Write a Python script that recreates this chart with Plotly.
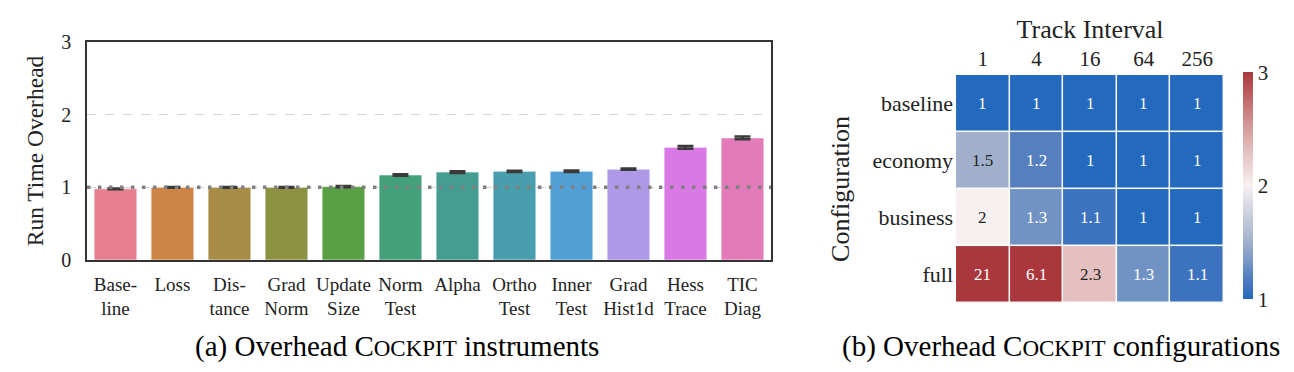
import plotly.graph_objects as go

# ---------------- data ----------------
instruments = ["Base-<br>line", "Loss", "Dis-<br>tance", "Grad<br>Norm", "Update<br>Size",
               "Norm<br>Test", "Alpha", "Ortho<br>Test", "Inner<br>Test", "Grad<br>Hist1d",
               "Hess<br>Trace", "TIC<br>Diag"]
overhead = [0.98, 1.00, 1.00, 1.00, 1.01, 1.17, 1.21, 1.22, 1.22, 1.25, 1.55, 1.68]
overhead_err = [0.005, 0.006, 0.006, 0.006, 0.008, 0.01, 0.012, 0.008, 0.01, 0.008, 0.02, 0.02]
bar_colors = ["#e6808f", "#ce8446", "#a78c45", "#8b9343", "#58a043", "#43a07b",
              "#459c93", "#499ead", "#529fd6", "#ad99e6", "#da78e6", "#e37ab9"]
y_ticks = [0, 1, 2, 3]
baseline_level = 1

intervals = ["1", "4", "16", "64", "256"]
configs = ["baseline", "economy", "business", "full"]
config_overhead = [
    [1, 1, 1, 1, 1],
    [1.5, 1.2, 1, 1, 1],
    [2, 1.3, 1.1, 1, 1],
    [21, 6.1, 2.3, 1.3, 1.1],
]
cbar_ticks = [1, 2, 3]

SERIF = "Liberation Serif, Times New Roman, serif"
INK = "#222222"

# page body has an 8px default margin -> figure is 8px smaller
W, H = 1286, 364

vlag = [
    [0.00, "#2369bd"],
    [0.05, "#3d73be"],
    [0.10, "#557fbf"],
    [0.15, "#7093c4"],
    [0.25, "#a0b0cc"],
    [0.50, "#f7f0f0"],
    [0.65, "#e4c0c0"],
    [0.80, "#cf8a8b"],
    [1.00, "#a9373b"],
]

fig = go.Figure()

fig.add_trace(go.Bar(
    x=instruments, y=overhead,
    marker=dict(color=bar_colors, line=dict(color="rgba(255,255,255,0.6)", width=1)),
    error_y=dict(type="data", array=overhead_err, color="#3a3a3a", thickness=2.5, width=8),
    xaxis="x", yaxis="y", showlegend=False, hoverinfo="skip",
))

fig.add_trace(go.Heatmap(
    x=intervals, y=configs, z=config_overhead,
    zmin=1, zmax=3, colorscale=vlag, xgap=1.5, ygap=1.5,
    xaxis="x2", yaxis="y2",
    colorbar=dict(x=0.9601, xanchor="left", xpad=0, ypad=0, y=0.511, yanchor="middle",
                  len=0.6225, thickness=10, outlinewidth=0, tickvals=cbar_ticks, ticks="",
                  tickfont=dict(family=SERIF, size=21, color=INK)),
    hoverinfo="skip",
))

annotations = []
for i, cfg in enumerate(configs):
    for j, itv in enumerate(intervals):
        v = config_overhead[i][j]
        col = INK if 1.4 <= v <= 2.6 else "white"
        # category axes: use the serial index of each category
        annotations.append(dict(x=j, y=i, xref="x2", yref="y2", text=f"{v:.2g}",
                                showarrow=False, font=dict(family=SERIF, size=17, color=col)))

annotations.append(dict(x=0.3025, y=0.0687, xref="paper", yref="paper", showarrow=False,
                        xanchor="center", yanchor="middle",
                        text='(a) Overhead C<span style="font-size:23px">OCKPIT</span> instruments',
                        font=dict(family=SERIF, size=29, color="black")))
annotations.append(dict(x=0.8192, y=0.0687, xref="paper", yref="paper", showarrow=False,
                        xanchor="center", yanchor="middle",
                        text='(b) Overhead C<span style="font-size:23px">OCKPIT</span> configurations',
                        font=dict(family=SERIF, size=29, color="black")))

fig.update_layout(
    width=W, height=H,
    margin=dict(l=0, r=0, t=0, b=0),
    paper_bgcolor="white", plot_bgcolor="white",
    font=dict(family=SERIF, color=INK),
    bargap=0.25,
    annotations=annotations,
    shapes=[dict(type="line", xref="x domain", yref="y", x0=0, x1=1,
                 y0=baseline_level, y1=baseline_level,
                 line=dict(color="#808080", width=3.5, dash="3.5px,7.5px"), layer="above")],
    xaxis=dict(domain=[0.0614, 0.5933], range=[-0.5, 11.5], showline=True, mirror=True,
               linecolor="#333", linewidth=1.5, ticks="", showgrid=False, automargin=False,
               ticklabelstandoff=6,
               tickfont=dict(family=SERIF, size=19, color=INK)),
    yaxis=dict(domain=[0.3077, 0.9066], range=[0, 3], tickvals=y_ticks, showline=True,
               mirror=True, linecolor="#333", linewidth=1.5, ticks="", automargin=False,
               showgrid=True, gridcolor="#d5d5d5", griddash="dash", gridwidth=1,
               zeroline=False, ticklabelstandoff=10,
               title=dict(text="Run Time Overhead", font=dict(family=SERIF, size=23.5, color=INK),
                          standoff=11),
               tickfont=dict(family=SERIF, size=20, color=INK)),
    xaxis2=dict(domain=[0.7372, 0.9456], side="top", anchor="y2", type="category",
                ticks="", showgrid=False, automargin=False,
                showline=False, zeroline=False, ticklabelstandoff=4,
                title=dict(text="Track Interval", font=dict(family=SERIF, size=26, color=INK),
                           standoff=0),
                tickfont=dict(family=SERIF, size=21, color=INK)),
    yaxis2=dict(domain=[0.1896, 0.8159], anchor="x2", autorange="reversed", type="category",
                ticks="", showgrid=False, showline=False, zeroline=False, automargin=False,
                ticklabelstandoff=2,
                title=dict(text="Configuration", font=dict(family=SERIF, size=26, color=INK),
                           standoff=15),
                tickfont=dict(family=SERIF, size=22, color=INK)),
)

fig.write_html("out.html")
